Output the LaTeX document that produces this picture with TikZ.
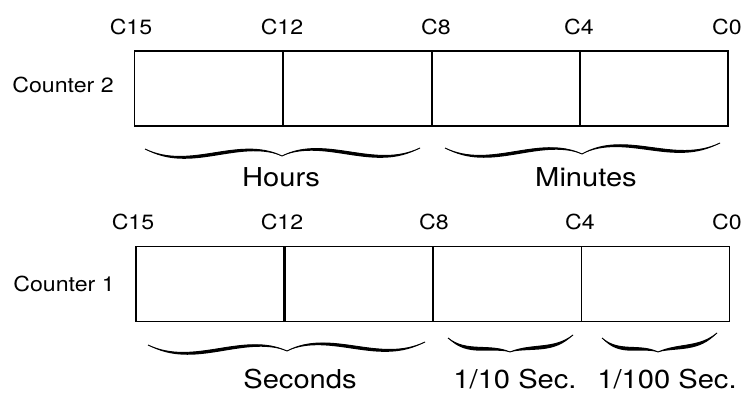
\documentclass[tikz,border=0pt]{standalone}
\usepackage{fontspec}
\setmainfont{TeX Gyre Heros}[FakeStretch=1.12]
\newcommand{\halfbr}[9]{%
  \fill (#1,#2) .. controls ({#3},{#4}) and ({#5},{#6}) .. (#7,#8)
     .. controls ({#5},{(#6)+#9}) and ({#3},{(#4)+#9}) .. (#1,#2) -- cycle;
  \draw[line width=0.7pt] (#1,#2) .. controls ({#3},{#4}) and ({#5},{#6}) .. (#7,#8);}
% wide brace: xa xm xb ya yb ym
\newcommand{\widebrace}[6]{%
  \halfbr{#1}{#4}{#1+0.33*(#2-#1)}{#4+22}{#1+0.68*(#2-#1)}{#4-14}{#2}{#6}{4}
  \halfbr{#3}{#5}{#3-0.33*(#3-#2)}{#5+22}{#3-0.68*(#3-#2)}{#5-14}{#2}{#6}{4}}
% small brace: xa xm xb ya yb ym
\newcommand{\smallbrace}[6]{%
  \halfbr{#1}{#4}{#1+0.3*(#2-#1)}{#4+15}{#1+0.65*(#2-#1)}{#6-9}{#2}{#6}{4.5}
  \halfbr{#3}{#5}{#3-0.3*(#3-#2)}{#5+15}{#3-0.65*(#3-#2)}{#6-9}{#2}{#6}{4.5}}
\begin{document}
\begin{tikzpicture}[x=0.75pt,y=-0.75pt,
  cell/.style={draw,line width=1.4pt,minimum width={148*0.75pt},minimum height={75*0.75pt},inner sep=0pt,outer sep=0pt},
  bitlbl/.style={font=\fontsize{15.5}{18}\selectfont,inner sep=0pt,anchor=base},
  ctrlbl/.style={font=\fontsize{15.5}{18}\selectfont,inner sep=0pt,anchor=base},
  fieldlbl/.style={font=\fontsize{19.5}{22}\selectfont,inner sep=0pt,anchor=base}]
\useasboundingbox (0,0) rectangle (750,395);
% Counter 2
\node[cell] (a1) at (208.5,88.5) {};
\node[cell] (a2) at (357.5,88.5) {};
\node[cell] (a3) at (506,88.5) {};
\node[cell] (a4) at (654,88.5) {};
\node[ctrlbl] (c2) at (63,93) {Counter 2};
\node[bitlbl] (t15) at (131,35) {C15};
\node[bitlbl] (t12) at (282,35) {C12};
\node[bitlbl] (t8) at (436,35) {C8};
\node[bitlbl] (t4) at (579,35) {C4};
\node[bitlbl] (t0) at (727,35) {C0};
% Counter 1
\node[cell] (b1) at (210,284) {};
\node[cell] (b2) at (359,284) {};
\node[cell] (b3) at (507.5,284) {};
\node[cell] (b4) at (655.5,284) {};
\node[ctrlbl] (c1) at (64,292) {Counter 1};
\node[bitlbl] (s15) at (133,230) {C15};
\node[bitlbl] (s12) at (282,230) {C12};
\node[bitlbl] (s8) at (434,230) {C8};
\node[bitlbl] (s4) at (580,230) {C4};
\node[bitlbl] (s0) at (727,230) {C0};
% field labels
\node[fieldlbl] (hours) at (281,187) {Hours};
\node[fieldlbl] (minutes) at (586,187) {Minutes};
\node[fieldlbl] (seconds) at (300,388) {Seconds};
\node[fieldlbl] (tenth) at (515,388) {1/10 Sec.};
\node[fieldlbl] (hund) at (667,388) {1/100 Sec.};
% braces
\widebrace{145}{282}{420}{149}{148}{156}
\widebrace{445}{582}{720}{148}{143}{154}
\widebrace{148}{287}{425}{345}{342}{351}
\smallbrace{448}{510}{573}{338}{335}{352}
\smallbrace{602}{658}{717}{338}{333}{352}
\end{tikzpicture}
\end{document}
